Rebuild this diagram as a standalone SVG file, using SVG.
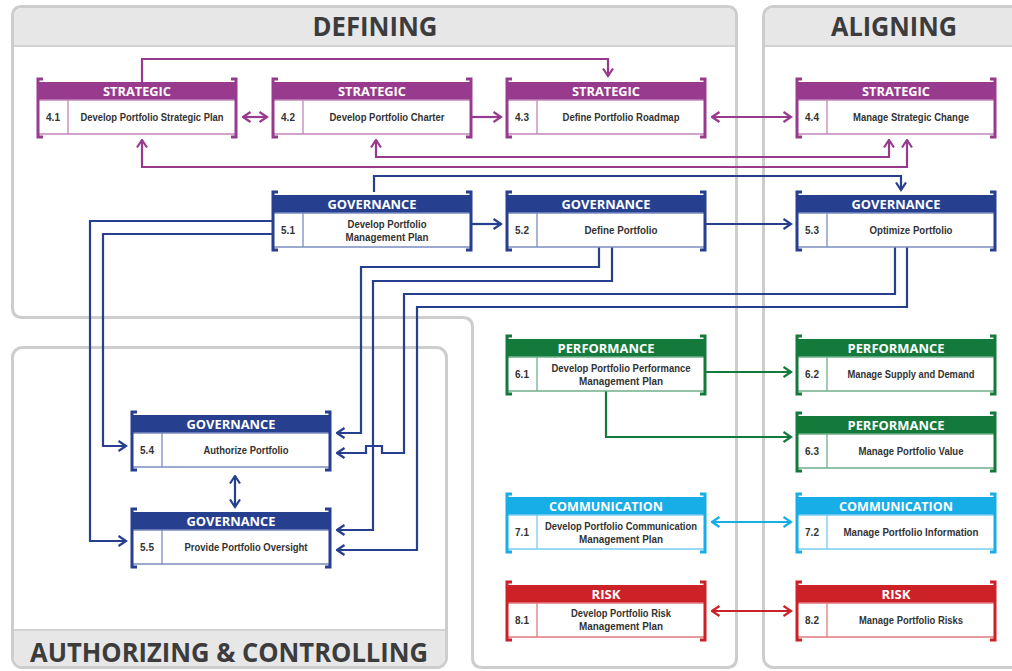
<svg xmlns="http://www.w3.org/2000/svg" width="1012" height="671" viewBox="0 0 1012 671">
<style>
.panel{fill:#fff;stroke:#cdcdcd;stroke-width:3}
.band{fill:#e7e7e7}
.sep{stroke:#d2d2d2;stroke-width:2}
.title{font-family:"Open Sans","Liberation Sans",sans-serif;font-weight:700;font-size:26px;fill:#3c3c3c;text-anchor:middle}
.bd{fill:#fff;stroke-width:1.5}
.dv{stroke-width:1.3}
.br{fill:none;stroke-width:3}
.ht{font-family:"Open Sans","Liberation Sans",sans-serif;font-weight:700;font-size:12.5px;fill:#fff;text-anchor:middle}
.num{font-family:"Liberation Sans",sans-serif;font-weight:700;font-size:10px;fill:#333;text-anchor:middle}
.lb{font-family:"Liberation Sans",sans-serif;font-weight:700;font-size:10.5px;fill:#333;text-anchor:middle}
.s .hd{fill:#983a8e}.s .bd,.s .dv{stroke:#c385bb}.s .br{stroke:#983a8e}
.g .hd{fill:#263f8f}.g .bd,.g .dv{stroke:#7b8cc0}.g .br{stroke:#263f8f}
.p .hd{fill:#137a3b}.p .bd,.p .dv{stroke:#6fb08a}.p .br{stroke:#137a3b}
.c .hd{fill:#17ade6}.c .bd,.c .dv{stroke:#78cdef}.c .br{stroke:#17ade6}
.r .hd{fill:#cd2128}.r .bd,.r .dv{stroke:#e07a7e}.r .br{stroke:#cd2128}
.cn{fill:none;stroke-width:2.2}
.cs{stroke:#983a8e}.cg{stroke:#263f8f}.cp{stroke:#137a3b}.cc{stroke:#17ade6}.cr{stroke:#cd2128}
</style>
<defs>
<marker id="as" viewBox="0 0 10 12" refX="8.5" refY="6" markerWidth="10" markerHeight="12" markerUnits="userSpaceOnUse" orient="auto-start-reverse"><path d="M1,1 L8.5,6 L1,11" fill="none" stroke="#983a8e" stroke-width="2.2"/></marker>
<marker id="ag" viewBox="0 0 10 12" refX="8.5" refY="6" markerWidth="10" markerHeight="12" markerUnits="userSpaceOnUse" orient="auto-start-reverse"><path d="M1,1 L8.5,6 L1,11" fill="none" stroke="#263f8f" stroke-width="2.2"/></marker>
<marker id="ap" viewBox="0 0 10 12" refX="8.5" refY="6" markerWidth="10" markerHeight="12" markerUnits="userSpaceOnUse" orient="auto-start-reverse"><path d="M1,1 L8.5,6 L1,11" fill="none" stroke="#137a3b" stroke-width="2.2"/></marker>
<marker id="ac" viewBox="0 0 10 12" refX="8.5" refY="6" markerWidth="10" markerHeight="12" markerUnits="userSpaceOnUse" orient="auto-start-reverse"><path d="M1,1 L8.5,6 L1,11" fill="none" stroke="#17ade6" stroke-width="2.2"/></marker>
<marker id="ar" viewBox="0 0 10 12" refX="8.5" refY="6" markerWidth="10" markerHeight="12" markerUnits="userSpaceOnUse" orient="auto-start-reverse"><path d="M1,1 L8.5,6 L1,11" fill="none" stroke="#cd2128" stroke-width="2.2"/></marker>
</defs>
<rect width="1012" height="671" fill="#fff"/>

<g id="panel-defining">
<path class="panel" d="M22.5,6.5 H726.5 Q736.5,6.5 736.5,16.5 V657.5 Q736.5,667.5 726.5,667.5 H482.5 Q472.5,667.5 472.5,657.5 V327.5 Q472.5,317.5 462.5,317.5 H22.5 Q12.5,317.5 12.5,307.5 V16.5 Q12.5,6.5 22.5,6.5 Z"/>
<path class="band" d="M14,46 V17 Q14,8 23,8 H726 Q735,8 735,17 V46 Z"/>
<line class="sep" x1="14" y1="46" x2="735" y2="46"/>
<text class="title" x="375" y="36" textLength="125" lengthAdjust="spacingAndGlyphs">DEFINING</text>
</g>
<g id="panel-aligning">
<rect class="panel" x="763.5" y="6.5" width="270" height="661" rx="10"/>
<path class="band" d="M765,46 V17 Q765,8 774,8 H1012 V46 Z"/>
<line class="sep" x1="765" y1="46" x2="1012" y2="46"/>
<text class="title" x="894" y="36" textLength="126" lengthAdjust="spacingAndGlyphs">ALIGNING</text>
</g>
<g id="panel-authorizing">
<rect class="panel" x="12.5" y="347.5" width="434" height="320" rx="10"/>
<path class="band" d="M14,630 H445 V657 Q445,666 436,666 H23 Q14,666 14,657 Z"/>
<line class="sep" x1="14" y1="630" x2="445" y2="630"/>
<text class="title" x="229" y="662" textLength="398" lengthAdjust="spacingAndGlyphs">AUTHORIZING &amp; CONTROLLING</text>
</g>

<g id="connectors">
<path class="cn cs" d="M142,82 V59 H608 V76" marker-end="url(#as)"/>
<path class="cn cs" d="M243,117 H267" marker-start="url(#as)" marker-end="url(#as)"/>
<path class="cn cs" d="M471,117 H501" marker-end="url(#as)"/>
<path class="cn cs" d="M712,117 H791" marker-start="url(#as)" marker-end="url(#as)"/>
<path class="cn cs" d="M142,140 V167 H907 V140" marker-start="url(#as)" marker-end="url(#as)"/>
<path class="cn cs" d="M376,140 V157 H889 V140" marker-start="url(#as)" marker-end="url(#as)"/>

<path class="cn cg" d="M374,192 V176 H901 V190" marker-end="url(#ag)"/>
<path class="cn cg" d="M471,224 H501" marker-end="url(#ag)"/>
<path class="cn cg" d="M705,224 H791" marker-end="url(#ag)"/>
<path class="cn cg" d="M273,221 H90 V541 H126" marker-end="url(#ag)"/>
<path class="cn cg" d="M273,234 H103 V446 H126" marker-end="url(#ag)"/>
<path class="cn cg" d="M599,247 V267 H361 V433 H337" marker-end="url(#ag)"/>
<path class="cn cg" d="M612,247 V281 H373 V530 H337" marker-end="url(#ag)"/>
<path class="cn cg" d="M895,247 V294 H404 V453 H382 V446 H366 V453 H337" marker-end="url(#ag)"/>
<path class="cn cg" d="M907,247 V307 H417 V550 H337" marker-end="url(#ag)"/>
<path class="cn cg" d="M235,476 V507" marker-start="url(#ag)" marker-end="url(#ag)"/>

<path class="cn cp" d="M705,372 H791" marker-end="url(#ap)"/>
<path class="cn cp" d="M606,391 V437 H791" marker-end="url(#ap)"/>
<path class="cn cc" d="M712,522 H791" marker-start="url(#ac)" marker-end="url(#ac)"/>
<path class="cn cr" d="M712,611 H791" marker-start="url(#ar)" marker-end="url(#ar)"/>
</g>

<g id="n41" class="s">
<rect class="hd" x="38" y="82" width="198" height="18"/><rect class="bd" x="38" y="100" width="198" height="34"/>
<line class="dv" x1="68" y1="100" x2="68" y2="134"/>
<path class="br" d="M43,79 H38 V137 H43 M231,79 H236 V137 H231"/>
<text class="ht" x="137" y="96" textLength="68" lengthAdjust="spacingAndGlyphs">STRATEGIC</text>
<text class="num" x="53" y="121">4.1</text>
<text class="lb" x="152" y="121" textLength="143" lengthAdjust="spacingAndGlyphs">Develop Portfolio Strategic Plan</text>
</g>
<g id="n42" class="s">
<rect class="hd" x="273" y="82" width="198" height="18"/><rect class="bd" x="273" y="100" width="198" height="34"/>
<line class="dv" x1="303" y1="100" x2="303" y2="134"/>
<path class="br" d="M278,79 H273 V137 H278 M466,79 H471 V137 H466"/>
<text class="ht" x="372" y="96" textLength="68" lengthAdjust="spacingAndGlyphs">STRATEGIC</text>
<text class="num" x="288" y="121">4.2</text>
<text class="lb" x="387" y="121" textLength="115" lengthAdjust="spacingAndGlyphs">Develop Portfolio Charter</text>
</g>
<g id="n43" class="s">
<rect class="hd" x="507" y="82" width="198" height="18"/><rect class="bd" x="507" y="100" width="198" height="34"/>
<line class="dv" x1="537" y1="100" x2="537" y2="134"/>
<path class="br" d="M512,79 H507 V137 H512 M700,79 H705 V137 H700"/>
<text class="ht" x="606" y="96" textLength="68" lengthAdjust="spacingAndGlyphs">STRATEGIC</text>
<text class="num" x="522" y="121">4.3</text>
<text class="lb" x="621" y="121" textLength="117" lengthAdjust="spacingAndGlyphs">Define Portfolio Roadmap</text>
</g>
<g id="n44" class="s">
<rect class="hd" x="797" y="82" width="198" height="18"/><rect class="bd" x="797" y="100" width="198" height="34"/>
<line class="dv" x1="827" y1="100" x2="827" y2="134"/>
<path class="br" d="M802,79 H797 V137 H802 M990,79 H995 V137 H990"/>
<text class="ht" x="896" y="96" textLength="68" lengthAdjust="spacingAndGlyphs">STRATEGIC</text>
<text class="num" x="812" y="121">4.4</text>
<text class="lb" x="911" y="121" textLength="116" lengthAdjust="spacingAndGlyphs">Manage Strategic Change</text>
</g>

<g id="n51" class="g">
<rect class="hd" x="273" y="195" width="198" height="18"/><rect class="bd" x="273" y="213" width="198" height="34"/>
<line class="dv" x1="303" y1="213" x2="303" y2="247"/>
<path class="br" d="M278,192 H273 V250 H278 M466,192 H471 V250 H466"/>
<text class="ht" x="372" y="209" textLength="89" lengthAdjust="spacingAndGlyphs">GOVERNANCE</text>
<text class="num" x="288" y="234">5.1</text>
<text class="lb" x="387" y="228" textLength="79" lengthAdjust="spacingAndGlyphs">Develop Portfolio</text>
<text class="lb" x="387" y="241" textLength="83" lengthAdjust="spacingAndGlyphs">Management Plan</text>
</g>
<g id="n52" class="g">
<rect class="hd" x="507" y="195" width="198" height="18"/><rect class="bd" x="507" y="213" width="198" height="34"/>
<line class="dv" x1="537" y1="213" x2="537" y2="247"/>
<path class="br" d="M512,192 H507 V250 H512 M700,192 H705 V250 H700"/>
<text class="ht" x="606" y="209" textLength="89" lengthAdjust="spacingAndGlyphs">GOVERNANCE</text>
<text class="num" x="522" y="234">5.2</text>
<text class="lb" x="621" y="234" textLength="73" lengthAdjust="spacingAndGlyphs">Define Portfolio</text>
</g>
<g id="n53" class="g">
<rect class="hd" x="797" y="195" width="198" height="18"/><rect class="bd" x="797" y="213" width="198" height="34"/>
<line class="dv" x1="827" y1="213" x2="827" y2="247"/>
<path class="br" d="M802,192 H797 V250 H802 M990,192 H995 V250 H990"/>
<text class="ht" x="896" y="209" textLength="89" lengthAdjust="spacingAndGlyphs">GOVERNANCE</text>
<text class="num" x="812" y="234">5.3</text>
<text class="lb" x="911" y="234" textLength="83" lengthAdjust="spacingAndGlyphs">Optimize Portfolio</text>
</g>
<g id="n54" class="g">
<rect class="hd" x="132" y="415" width="198" height="18"/><rect class="bd" x="132" y="433" width="198" height="34"/>
<line class="dv" x1="162" y1="433" x2="162" y2="467"/>
<path class="br" d="M137,412 H132 V470 H137 M325,412 H330 V470 H325"/>
<text class="ht" x="231" y="429" textLength="89" lengthAdjust="spacingAndGlyphs">GOVERNANCE</text>
<text class="num" x="147" y="454">5.4</text>
<text class="lb" x="246" y="454" textLength="85" lengthAdjust="spacingAndGlyphs">Authorize Portfolio</text>
</g>
<g id="n55" class="g">
<rect class="hd" x="132" y="512" width="198" height="18"/><rect class="bd" x="132" y="530" width="198" height="34"/>
<line class="dv" x1="162" y1="530" x2="162" y2="564"/>
<path class="br" d="M137,509 H132 V567 H137 M325,509 H330 V567 H325"/>
<text class="ht" x="231" y="526" textLength="89" lengthAdjust="spacingAndGlyphs">GOVERNANCE</text>
<text class="num" x="147" y="551">5.5</text>
<text class="lb" x="246" y="551" textLength="123" lengthAdjust="spacingAndGlyphs">Provide Portfolio Oversight</text>
</g>

<g id="n61" class="p">
<rect class="hd" x="507" y="339" width="198" height="18"/><rect class="bd" x="507" y="357" width="198" height="34"/>
<line class="dv" x1="537" y1="357" x2="537" y2="391"/>
<path class="br" d="M512,336 H507 V394 H512 M700,336 H705 V394 H700"/>
<text class="ht" x="606" y="353" textLength="97" lengthAdjust="spacingAndGlyphs">PERFORMANCE</text>
<text class="num" x="522" y="378">6.1</text>
<text class="lb" x="621" y="372" textLength="139" lengthAdjust="spacingAndGlyphs">Develop Portfolio Performance</text>
<text class="lb" x="621" y="385" textLength="84" lengthAdjust="spacingAndGlyphs">Management Plan</text>
</g>
<g id="n62" class="p">
<rect class="hd" x="797" y="339" width="198" height="18"/><rect class="bd" x="797" y="357" width="198" height="34"/>
<line class="dv" x1="827" y1="357" x2="827" y2="391"/>
<path class="br" d="M802,336 H797 V394 H802 M990,336 H995 V394 H990"/>
<text class="ht" x="896" y="353" textLength="97" lengthAdjust="spacingAndGlyphs">PERFORMANCE</text>
<text class="num" x="812" y="378">6.2</text>
<text class="lb" x="911" y="378" textLength="127" lengthAdjust="spacingAndGlyphs">Manage Supply and Demand</text>
</g>
<g id="n63" class="p">
<rect class="hd" x="797" y="416" width="198" height="18"/><rect class="bd" x="797" y="434" width="198" height="34"/>
<line class="dv" x1="827" y1="434" x2="827" y2="468"/>
<path class="br" d="M802,413 H797 V471 H802 M990,413 H995 V471 H990"/>
<text class="ht" x="896" y="430" textLength="97" lengthAdjust="spacingAndGlyphs">PERFORMANCE</text>
<text class="num" x="812" y="455">6.3</text>
<text class="lb" x="911" y="455" textLength="105" lengthAdjust="spacingAndGlyphs">Manage Portfolio Value</text>
</g>

<g id="n71" class="c">
<rect class="hd" x="507" y="497" width="198" height="18"/><rect class="bd" x="507" y="515" width="198" height="34"/>
<line class="dv" x1="537" y1="515" x2="537" y2="549"/>
<path class="br" d="M512,494 H507 V552 H512 M700,494 H705 V552 H700"/>
<text class="ht" x="606" y="511" textLength="114" lengthAdjust="spacingAndGlyphs">COMMUNICATION</text>
<text class="num" x="522" y="536">7.1</text>
<text class="lb" x="621" y="530" textLength="152" lengthAdjust="spacingAndGlyphs">Develop Portfolio Communication</text>
<text class="lb" x="621" y="543" textLength="84" lengthAdjust="spacingAndGlyphs">Management Plan</text>
</g>
<g id="n72" class="c">
<rect class="hd" x="797" y="497" width="198" height="18"/><rect class="bd" x="797" y="515" width="198" height="34"/>
<line class="dv" x1="827" y1="515" x2="827" y2="549"/>
<path class="br" d="M802,494 H797 V552 H802 M990,494 H995 V552 H990"/>
<text class="ht" x="896" y="511" textLength="114" lengthAdjust="spacingAndGlyphs">COMMUNICATION</text>
<text class="num" x="812" y="536">7.2</text>
<text class="lb" x="911" y="536" textLength="135" lengthAdjust="spacingAndGlyphs">Manage Portfolio Information</text>
</g>

<g id="n81" class="r">
<rect class="hd" x="507" y="585" width="198" height="18"/><rect class="bd" x="507" y="603" width="198" height="34"/>
<line class="dv" x1="537" y1="603" x2="537" y2="637"/>
<path class="br" d="M512,582 H507 V640 H512 M700,582 H705 V640 H700"/>
<text class="ht" x="606" y="599" textLength="29" lengthAdjust="spacingAndGlyphs">RISK</text>
<text class="num" x="522" y="624">8.1</text>
<text class="lb" x="621" y="617" textLength="100" lengthAdjust="spacingAndGlyphs">Develop Portfolio Risk</text>
<text class="lb" x="621" y="630" textLength="84" lengthAdjust="spacingAndGlyphs">Management Plan</text>
</g>
<g id="n82" class="r">
<rect class="hd" x="797" y="585" width="198" height="18"/><rect class="bd" x="797" y="603" width="198" height="34"/>
<line class="dv" x1="827" y1="603" x2="827" y2="637"/>
<path class="br" d="M802,582 H797 V640 H802 M990,582 H995 V640 H990"/>
<text class="ht" x="896" y="599" textLength="29" lengthAdjust="spacingAndGlyphs">RISK</text>
<text class="num" x="812" y="624">8.2</text>
<text class="lb" x="911" y="624" textLength="104" lengthAdjust="spacingAndGlyphs">Manage Portfolio Risks</text>
</g>
</svg>
